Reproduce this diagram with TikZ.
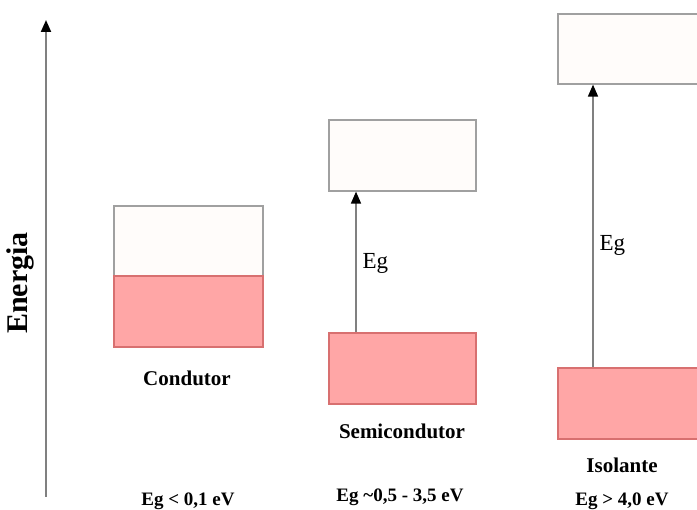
\documentclass[tikz,border=0pt]{standalone}
\usepackage{fontspec}
\setmainfont{Liberation Serif}
\usetikzlibrary{arrows.meta}
\definecolor{bandpink}{HTML}{FFA6A6}
\definecolor{bandedge}{HTML}{D87070}
\definecolor{bandwhite}{HTML}{FFFCFA}
\definecolor{boxedge}{HTML}{A0A0A0}
\definecolor{axisgray}{HTML}{808080}
\tikzset{
  emptyband/.style={draw=boxedge, line width=1.6pt, fill=bandwhite, rectangle, inner sep=0pt, anchor=north west},
  fullband/.style={draw=bandedge, line width=1.6pt, fill=bandpink, rectangle, inner sep=0pt, anchor=north west},
  gaparrow/.style={draw=axisgray, line width=1.5pt, -{Triangle[length=12pt,width=10pt,black]}},
  matlabel/.style={font=\bfseries\fontsize{21}{24}\selectfont},
  rangelabel/.style={font=\bfseries\fontsize{19}{22}\selectfont},
  eglabel/.style={font=\fontsize{23}{26}\selectfont, anchor=west}
}
\begin{document}
\begin{tikzpicture}[x=1pt, y=-1pt]
  \clip (0,0) rectangle (697,510);
  \fill[white] (0,0) rectangle (697,510);

  % energy axis
  \coordinate (axb) at (46,497);
  \coordinate (axt) at (46,20);
  \draw[gaparrow, line width=2pt] (axb) -- (axt);
  \node[rotate=90, font=\bfseries\fontsize{30}{34}\selectfont] (energia) at (20,283) {Energia};

  % conductor: overlapping bands
  \node[emptyband, minimum width=149pt, minimum height=70pt] (ccb) at (113,205) {};
  \node[fullband, minimum width=149pt, minimum height=71pt] (cvb) at (113,275) {};
  \node[matlabel] (cond) at (187,378) {Condutor};
  \node[rangelabel] (crange) at (188,501) {Eg < 0,1 eV};

  % semiconductor: small gap
  \node[emptyband, minimum width=147pt, minimum height=71pt] (scb) at (328,119) {};
  \node[fullband, minimum width=147pt, minimum height=71pt] (svb) at (328,332) {};
  \draw[gaparrow] (svb.north west -| 356,0) -- (scb.south west -| 356,0);
  \node[eglabel] (seg) at (359,263) {Eg};
  \node[matlabel] (semi) at (402,431) {Semicondutor};
  \node[rangelabel] (srange) at (400,497) {Eg \textasciitilde0,5 - 3,5 eV};

  % insulator: wide gap
  \node[emptyband, minimum width=150pt, minimum height=70pt] (icb) at (557,13) {};
  \node[fullband, minimum width=150pt, minimum height=71pt] (ivb) at (557,367) {};
  \draw[gaparrow] (ivb.north west -| 593,0) -- (icb.south west -| 593,0);
  \node[eglabel] (ieg) at (596,245) {Eg};
  \node[matlabel] (iso) at (622,465) {Isolante};
  \node[rangelabel] (irange) at (622,501) {Eg > 4,0 eV};
\end{tikzpicture}
\end{document}
